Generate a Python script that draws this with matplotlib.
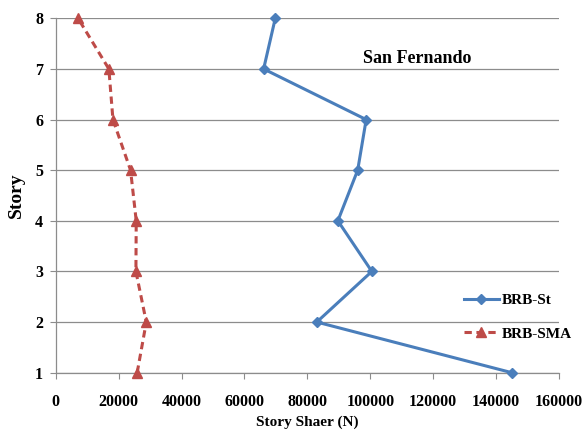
import matplotlib
matplotlib.use("Agg")
import matplotlib.pyplot as plt

# story numbers and story shear (N)
stories = [1, 2, 3, 4, 5, 6, 7, 8]
brb_st = [145000, 83000, 100500, 89700, 96000, 98700, 66100, 69800]
brb_sma = [25900, 28800, 25500, 25600, 23800, 18200, 16900, 7100]
x_ticks = [0, 20000, 40000, 60000, 80000, 100000, 120000, 140000, 160000]

plt.rcParams['font.family'] = ['Liberation Serif', 'DejaVu Serif']

blue = '#4A7EBB'
red = '#BE4B48'
grey = '#8C8C8C'

fig = plt.figure(figsize=(5.82, 4.30), dpi=100)
ax = fig.add_axes([0.0957, 0.1333, 0.8648, 0.8241])

ax.plot(brb_st, stories, color=blue, lw=2.2, marker='D', ms=4.8,
        label='BRB-St', clip_on=False, zorder=3)
ax.plot(brb_sma, stories, color=red, lw=2.2, ls=(0, (2.4, 1.5)), marker='^',
        ms=7, label='BRB-SMA', clip_on=False, zorder=3)

ax.set_xlim(0, 160000)
ax.set_ylim(1, 8)
ax.set_xticks(x_ticks)
ax.set_yticks(stories)
ax.grid(axis='y', color=grey, lw=0.9)
ax.set_axisbelow(True)

for s in ['top', 'right']:
    ax.spines[s].set_visible(False)
for s in ['left', 'bottom']:
    ax.spines[s].set_color(grey)
    ax.spines[s].set_linewidth(0.9)

ax.tick_params(axis='x', direction='out', length=4, color=grey, pad=11.5,
               labelsize=11.5)
ax.tick_params(axis='y', direction='out', length=4, color=grey, pad=5,
               labelsize=11.5)
for lab in ax.get_xticklabels() + ax.get_yticklabels():
    lab.set_fontweight('bold')

ax.set_xlabel('Story Shaer (N)', fontsize=11, fontweight='bold', labelpad=4)
ax.set_ylabel('Story', fontsize=14, fontweight='bold', labelpad=7)

ax.text(0.718, 0.888, 'San Fernando', transform=ax.transAxes, fontsize=13,
        fontweight='bold', ha='center', va='center')

leg = fig.legend(loc='center left', bbox_to_anchor=(0.797, 0.263),
                 frameon=False, prop={'size': 11, 'weight': 'bold'},
                 handlelength=2.3, handletextpad=0.2, labelspacing=1.3,
                 borderaxespad=0, borderpad=0)

fig.savefig('out.png', dpi=100)
